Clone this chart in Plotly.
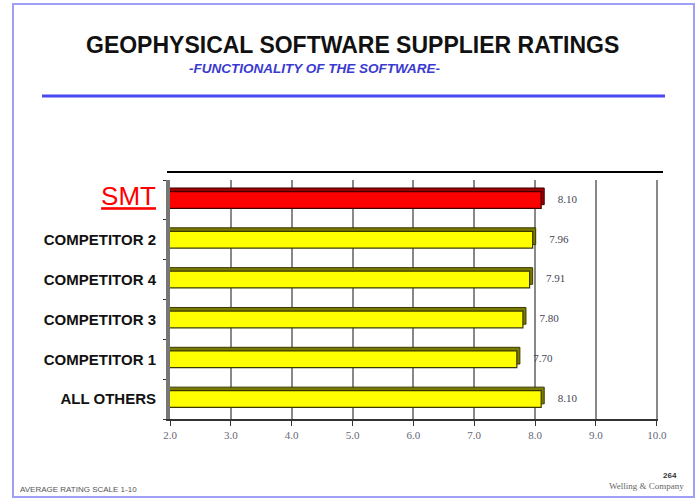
import plotly.graph_objects as go

# ---- data ----
categories = ["SMT", "COMPETITOR 2", "COMPETITOR 4", "COMPETITOR 3", "COMPETITOR 1", "ALL OTHERS"]
ratings = [8.10, 7.96, 7.91, 7.80, 7.70, 8.10]
rating_labels = ["8.10", "7.96", "7.91", "7.80", "7.70", "8.10"]
x_ticks = [2, 3, 4, 5, 6, 7, 8, 9, 10]

W, H = 700, 499
L, R, T, B = 170, 42, 180, 80
PW, PH = W - L - R, H - T - B

def px_x(p):
    return (p - L) / PW

def px_y(p):
    return (H - B - p) / PH

# plot from bottom to top so that SMT is on top
cats = categories[::-1]
vals = ratings[::-1]
labs = rating_labels[::-1]
is_smt = [c == "SMT" for c in cats]
face_colors = ["#ff0000" if s else "#ffff00" for s in is_smt]
depth_colors = ["#9a0000" if s else "#7a7a00" for s in is_smt]
edge_colors = ["#400000" if s else "#3a3a00" for s in is_smt]

tick_text = []
for c in cats:
    if c == "SMT":
        tick_text.append("<span style='color:#ff0000;font-size:26px;font-weight:normal'><u>SMT</u></span>")
    else:
        tick_text.append("<b>" + c + "</b>")

bw = 0.42
fig = go.Figure()
# 3D depth (top/side face)
fig.add_trace(go.Bar(
    y=cats, x=[v + 0.05 for v in vals], orientation="h",
    base=0, width=bw, offset=-bw / 2 + 0.09,
    marker=dict(color=depth_colors, line=dict(color=edge_colors, width=1)),
    hoverinfo="skip", showlegend=False,
))
# front face
fig.add_trace(go.Bar(
    y=cats, x=vals, orientation="h",
    base=0, width=bw, offset=-bw / 2,
    marker=dict(color=face_colors, line=dict(color=edge_colors, width=1.2)),
    showlegend=False,
))
# value labels
fig.add_trace(go.Scatter(
    y=cats, x=vals, mode="text",
    text=["      " + t for t in labs], textposition="middle right",
    textfont=dict(family="Liberation Serif", size=11, color="#444455"),
    showlegend=False, hoverinfo="skip", cliponaxis=False,
))

fig.update_layout(
    width=W, height=H,
    margin=dict(l=L, r=R, t=T, b=B),
    paper_bgcolor="white", plot_bgcolor="white",
    barmode="overlay",
    xaxis=dict(
        range=[2, 10.02], tickvals=x_ticks, tickformat=".1f",
        showgrid=True, gridcolor="#888888", gridwidth=2,
        showline=True, linecolor="#333333", linewidth=1.5,
        ticks="outside", ticklen=5, tickcolor="#333333",
        tickfont=dict(family="Liberation Serif", size=11, color="#666677"),
        zeroline=False, fixedrange=True,
    ),
    yaxis=dict(
        categoryorder="array", categoryarray=cats,
        tickvals=cats, ticktext=tick_text,
        tickfont=dict(family="Liberation Sans", size=15, color="#111111"),
        showline=True, linecolor="#777777", linewidth=4,
        ticks="outside", tickson="boundaries", ticklen=3, tickcolor="#333333",
        ticklabelstandoff=7,
        showgrid=False, zeroline=False, fixedrange=True,
    ),
    font=dict(family="Liberation Sans"),
)

shapes = [
    # slide border
    dict(type="rect", xref="paper", yref="paper",
         x0=px_x(13), x1=px_x(694), y0=px_y(4), y1=px_y(497),
         line=dict(color="#9f9ff5", width=2), fillcolor="rgba(0,0,0,0)", layer="below"),
    # blue rule under title
    dict(type="line", xref="paper", yref="paper",
         x0=px_x(42), x1=px_x(665), y0=px_y(96), y1=px_y(96),
         line=dict(color="#4848f0", width=3)),
    # black top line of chart
    dict(type="line", xref="paper", yref="paper",
         x0=px_x(167), x1=px_x(663), y0=px_y(172), y1=px_y(172),
         line=dict(color="#000000", width=2)),
]
fig.update_layout(shapes=shapes)

annotations = [
    dict(text="<b>GEOPHYSICAL SOFTWARE SUPPLIER RATINGS</b>", xref="paper", yref="paper",
         x=px_x(352), y=px_y(45), showarrow=False, xanchor="center", yanchor="middle",
         font=dict(family="Liberation Sans", size=23, color="#111111")),
    dict(text="<b><i>-FUNCTIONALITY OF THE SOFTWARE-</i></b>", xref="paper", yref="paper",
         x=px_x(314), y=px_y(68), showarrow=False, xanchor="center", yanchor="middle",
         font=dict(family="Liberation Sans", size=13.5, color="#3a3ad0")),
    dict(text="AVERAGE RATING SCALE 1-10", xref="paper", yref="paper",
         x=px_x(18), y=px_y(489), showarrow=False, xanchor="left", yanchor="middle",
         font=dict(family="Liberation Sans", size=8, color="#555555")),
    dict(text="<b>264</b>", xref="paper", yref="paper",
         x=px_x(679), y=px_y(475), showarrow=False, xanchor="right", yanchor="middle",
         font=dict(family="Liberation Sans", size=8, color="#333333")),
    dict(text="Welling &amp; Company", xref="paper", yref="paper",
         x=px_x(686), y=px_y(486), showarrow=False, xanchor="right", yanchor="middle",
         font=dict(family="Liberation Serif", size=9, color="#666666")),
]
fig.update_layout(annotations=annotations)

fig.write_html("out.html", config={"displayModeBar": False},
               post_script="document.body.style.margin='0';document.body.style.overflow='hidden';")
